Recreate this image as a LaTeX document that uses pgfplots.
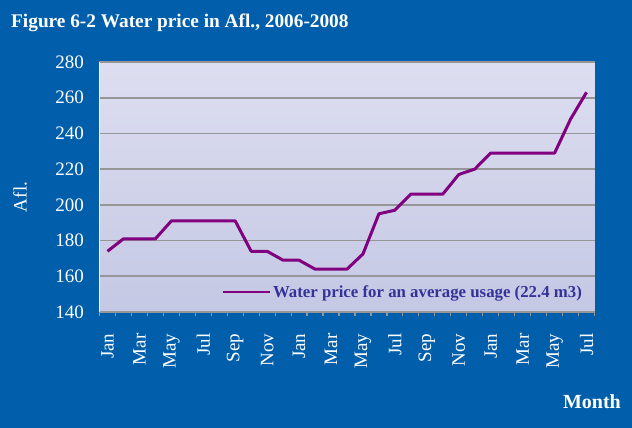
\documentclass[border=0pt]{standalone}
\usepackage{fontspec}
\setmainfont{Liberation Serif}
\usepackage{pgfplots}
\pgfplotsset{compat=1.18}
\definecolor{bgblue}{RGB}{0,94,170}
\definecolor{plottop}{RGB}{221,222,240}
\definecolor{plotbot}{RGB}{197,200,228}
\definecolor{gridgray}{RGB}{150,150,150}
\definecolor{linepurple}{RGB}{128,0,128}
\definecolor{legblue}{RGB}{51,51,153}
\begin{document}
\begin{tikzpicture}
\path[use as bounding box] (0,0) rectangle (632bp,428bp);
\fill[bgblue] (0,0) rectangle (632bp,428bp);
\begin{axis}[
  at={(99.5bp,116bp)}, anchor=south west,
  scale only axis, width=495bp, height=250bp,
  xmin=-0.5, xmax=30.5, ymin=140, ymax=280,
  ytick={140,160,...,280},
  xtick={0,2,...,30},
  xticklabels={Jan,Mar,May,Jul,Sep,Nov,Jan,Mar,May,Jul,Sep,Nov,Jan,Mar,May,Jul},
  minor xtick={-0.5,0.5,...,30.5},
  major tick length=0pt,
  minor tick length=4bp,
  tick align=outside,
  minor tick style={draw=gridgray, line width=1.2bp},
  ymajorgrids,
  major grid style={draw=gridgray, line width=1.6bp},
  axis x line*=bottom, axis y line*=left,
  x axis line style={draw=gridgray, line width=1.6bp, -},
  y axis line style={draw=white!85!plottop, line width=1bp, -},
  axis background/.style={shade, top color=plottop, bottom color=plotbot},
  /pgf/number format/assume math mode=true,
  ticklabel style={font=\fontsize{19bp}{21bp}\selectfont, text=white},
  xticklabel style={yshift=-18bp, rotate=90, anchor=east},
  yticklabel style={xshift=-12bp},
  legend style={at={(0.985,0.035)}, anchor=south east, draw=none, fill=none,
    font=\bfseries\fontsize{16.8bp}{18bp}\selectfont, text=legblue,
    legend cell align=left},
  legend image code/.code={\draw[#1, line width=2bp] (0bp,0bp) -- (47bp,0bp);},
]
\addplot[linepurple, line width=3bp, line join=round] coordinates {
 (0,174) (1,181) (2,181) (3,181) (4,191) (5,191) (6,191) (7,191) (8,191)
 (9,174) (10,174) (11,169) (12,169) (13,164) (14,164) (15,164) (16,172.5)
 (17,195) (18,197) (19,206) (20,206) (21,206) (22,217) (23,220)
 (24,229) (25,229) (26,229) (27,229) (28,229) (29,248) (30,263)
};
\addlegendentry{Water price for an average usage (22.4 m3)}
\end{axis}
\node[anchor=base west, text=white, font=\bfseries\fontsize{19.3bp}{21bp}\selectfont, inner sep=0pt] at (11bp,400bp) {Figure 6-2 Water price in Afl., 2006-2008};
\node[rotate=90, text=white, font=\fontsize{19bp}{21bp}\selectfont, inner sep=0pt] at (20bp,231bp) {Afl.};
\node[anchor=base east, text=white, font=\bfseries\fontsize{20bp}{22bp}\selectfont, inner sep=0pt] at (621bp,20bp) {Month};
\end{tikzpicture}
\end{document}
